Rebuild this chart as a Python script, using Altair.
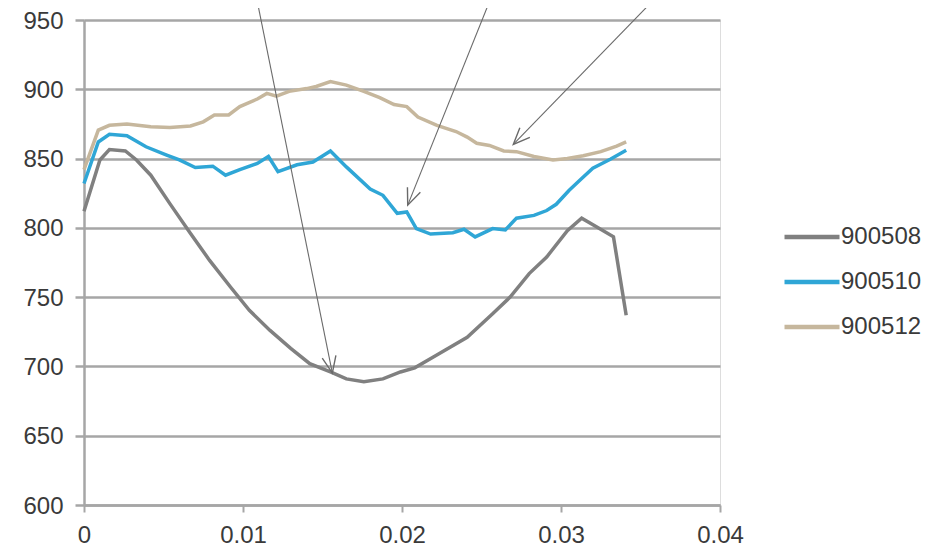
import altair as alt
import pandas as pd
import numpy as np

# ---- data ----
series_names = ["900508", "900510", "900512"]

x_900508 = [0, 0.001, 0.0016, 0.0026, 0.0033, 0.0042, 0.0054, 0.0067, 0.0079, 0.0092,
            0.0104, 0.0117, 0.013, 0.0142, 0.0155, 0.0165, 0.0176, 0.0188, 0.0199, 0.0208,
            0.022, 0.0241, 0.0257, 0.0268, 0.028, 0.0291, 0.0304, 0.0313, 0.0322, 0.0333, 0.0341]
y_900508 = [812, 849, 856.5, 855.5, 849, 838, 817.5, 796, 776.5, 757.5,
            740.5, 726, 713, 702, 696, 691, 689, 691, 696, 699,
            707, 721, 738, 750, 767, 779, 798, 807, 801, 793.5, 737]

x_900510 = [0, 0.0009, 0.0016, 0.0027, 0.0039, 0.0052, 0.006, 0.007, 0.0081, 0.0089,
            0.0098, 0.0109, 0.0116, 0.0122, 0.0134, 0.0144, 0.0155, 0.0165, 0.018, 0.0188,
            0.0197, 0.0203, 0.0209, 0.0218, 0.0232, 0.0239, 0.0246, 0.0257, 0.0265, 0.0272,
            0.0283, 0.0291, 0.0297, 0.0305, 0.0312, 0.032, 0.0331, 0.0341]
y_900510 = [832, 862, 867.5, 866.5, 858.5, 852.5, 849, 843.5, 844.5, 838,
            842, 846.5, 851.5, 840.5, 845.5, 847.5, 855.5, 844, 828, 823.5,
            810.5, 811.5, 799.5, 795.5, 796.5, 799, 793.5, 799.5, 798.5, 807,
            809, 812.5, 817, 827, 834.5, 843, 849.5, 856]

x_900512 = [0, 0.0009, 0.0016, 0.0027, 0.0042, 0.0054, 0.0067, 0.0075, 0.0082, 0.0091,
            0.0098, 0.0109, 0.0115, 0.0121, 0.0129, 0.014, 0.0146, 0.0155, 0.0165, 0.0176,
            0.0186, 0.0195, 0.0203, 0.021, 0.0222, 0.0234, 0.0241, 0.0247, 0.0255, 0.0264,
            0.0272, 0.0283, 0.0295, 0.0304, 0.0314, 0.0325, 0.0335, 0.0341]
y_900512 = [842, 870.5, 874, 875, 873, 872.5, 873.5, 876.5, 881.5, 881.5,
            887.5, 893, 897, 895, 898.5, 900.5, 902, 905.5, 903, 898.5,
            894, 889, 887.5, 880, 874, 869.5, 865.5, 861, 859.5, 855.5,
            855, 851.5, 849, 850, 852, 855, 859, 862]

x_ticks = [0, 0.01, 0.02, 0.03, 0.04]
y_ticks = [600, 650, 700, 750, 800, 850, 900, 950]

# annotation arrows (start -> tip), in data units
arrow_x_start = [0.01088, 0.02554, 0.03582]
arrow_y_start = [964.4, 964.4, 964.4]
arrow_x_tip = [0.01562, 0.02036, 0.0270]
arrow_y_tip = [695.2, 816.4, 860.2]

colors = ["#808080", "#2fa6d6", "#c6b79d"]

# ---- build tables ----
rows = []
for name, xs, ys in [("900508", x_900508, y_900508),
                     ("900510", x_900510, y_900510),
                     ("900512", x_900512, y_900512)]:
    for xv, yv in zip(xs, ys):
        rows.append({"series": name, "x": xv, "y": yv})
df = pd.DataFrame(rows)

W, H = 636, 485
xdom = [0, 0.04]
ydom = [600, 950]
px_x = W / (xdom[1] - xdom[0])
px_y = H / (ydom[1] - ydom[0])
dx = (np.array(arrow_x_tip) - np.array(arrow_x_start)) * px_x
dy = -(np.array(arrow_y_tip) - np.array(arrow_y_start)) * px_y
ang = np.degrees(np.arcsin(-dx / np.hypot(dx, dy))) % 360
arrows = pd.DataFrame({"x": arrow_x_start, "y": arrow_y_start,
                       "x2": arrow_x_tip, "y2": arrow_y_tip, "angle": ang})

grid_col = "#a6a6a6"
text_col = "#3a3a3a"
FONT = "Liberation Sans"

xenc = alt.X("x:Q", scale=alt.Scale(domain=xdom, nice=False, zero=False),
             axis=alt.Axis(values=x_ticks, format="~g", title=None, grid=False,
                           domainColor=grid_col, domainWidth=2.5, tickColor=grid_col,
                           tickWidth=2, tickSize=7, labelPadding=11, labelFontSize=24,
                           labelFont=FONT, labelColor=text_col, labelFlush=False))
yenc = alt.Y("y:Q", scale=alt.Scale(domain=ydom, nice=False, zero=False),
             axis=alt.Axis(values=y_ticks, title=None, grid=True, gridColor=grid_col,
                           gridWidth=2.5, domainColor=grid_col, domainWidth=2.5,
                           tickColor=grid_col, tickWidth=2.5, tickSize=9, labelPadding=12,
                           labelFontSize=24, labelFont=FONT, labelColor=text_col,
                           labelOffset=1, labelFlush=False))

lines = alt.Chart(df).mark_line(strokeWidth=3.5).encode(
    x=xenc, y=yenc,
    color=alt.Color("series:N",
                    scale=alt.Scale(domain=series_names, range=colors),
                    legend=alt.Legend(title=None, orient="none", legendX=712, legendY=201,
                                      symbolType="M-2,0L2,0", symbolSize=756,
                                      symbolStrokeWidth=4.5, labelFontSize=24,
                                      labelFont=FONT, labelColor=text_col,
                                      rowPadding=17, labelOffset=13, padding=0)),
    order=alt.Order("x:Q"),
)

shafts = alt.Chart(arrows).mark_rule(color="#6a6a6a", strokeWidth=1.1).encode(
    x="x:Q", y="y:Q", x2="x2:Q", y2="y2:Q")

heads = alt.Chart(arrows).mark_point(
    shape="M-0.42,-1L0,0L0.42,-1", filled=False, stroke="#6a6a6a",
    strokeWidth=1.4, size=1100, opacity=1).encode(
    x="x2:Q", y="y2:Q", angle=alt.Angle("angle:Q", scale=None))

chart = alt.layer(lines, shafts, heads).properties(
    width=W, height=H,
    autosize=alt.AutoSizeParams(type="none"),
    padding={"left": 76, "top": 12, "right": 211, "bottom": 44},
).configure_view(stroke=None).configure(background="white")

chart.save("out.html", embed_options={"renderer": "svg", "actions": False})
